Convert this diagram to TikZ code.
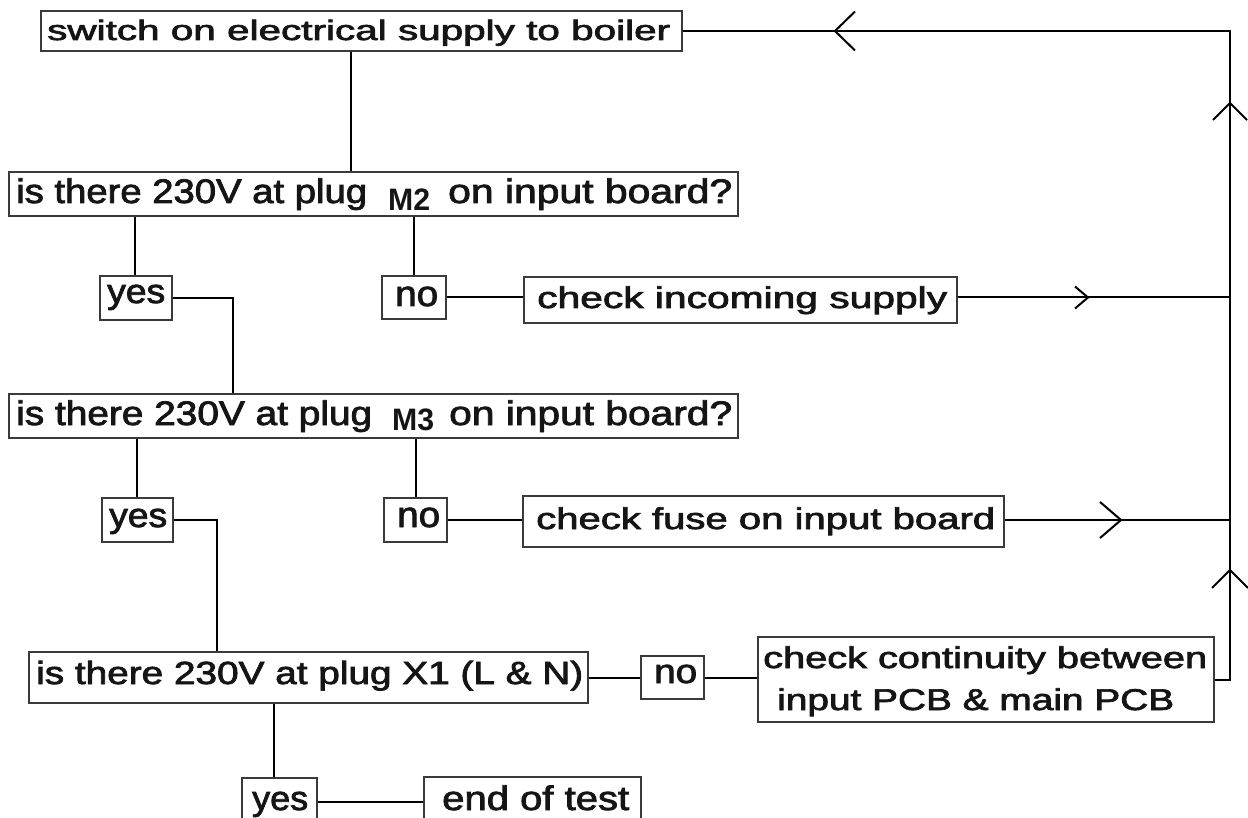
\documentclass[tikz,border=0pt]{standalone}
\usepackage{fontspec}
\setmainfont{Liberation Sans}
\newfontfamily\heavy{Liberation Sans}[FakeBold=2.2]
\usepackage{graphicx}
\usetikzlibrary{fit}
\definecolor{boxgray}{HTML}{3A3A3A}
\definecolor{ink}{HTML}{151515}
\newcommand\fitto[3]{\resizebox{#1pt}{\height}{\fontsize{#2}{#2}\selectfont #3}}
\begin{document}
\begin{tikzpicture}[x=1pt,y=-1pt,
  box/.style={draw=boxgray,line width=1.3pt,inner sep=0pt,fit={#1}},
  txt/.style={inner sep=0pt,anchor=base west,text=ink,font=\heavy},
  wire/.style={line width=2pt,draw=black},
  chevron/.pic={\draw[wire,line join=miter] (-1,-1) -- (0,0) -- (-1,1);}
]
\useasboundingbox (0,0) rectangle (1248,818);
\clip (0,0) rectangle (1248,818);

% column / row helpers
\coordinate (c351) at (351,0);
\coordinate (c135) at (135,0);
\coordinate (c414) at (414,0);
\coordinate (c233) at (233,0);
\coordinate (c137) at (137,0);
\coordinate (c416) at (416,0);
\coordinate (c217) at (217,0);
\coordinate (c274) at (274,0);
\coordinate (cR) at (1230,0);

% boxes
\node[box={(41,11) (682,51)}] (top) {};
\node[box={(9,172) (738,216)}] (m2) {};
\node[box={(100,276) (172,320)}] (yes1) {};
\node[box={(382,276) (446,319)}] (no1) {};
\node[box={(524,277) (957,323)}] (inc) {};
\node[box={(9,394) (738,438)}] (m3) {};
\node[box={(102,498) (173,542)}] (yes2) {};
\node[box={(384,498) (447,542)}] (no2) {};
\node[box={(523,496) (1004,547)}] (fuse) {};
\node[box={(29,652) (588,703)}] (x1) {};
\node[box={(641,656) (704,699)}] (no3) {};
\node[box={(758,637) (1214,722)}] (cont) {};
\node[box={(242,778) (317,826)}] (yes3) {};
\node[box={(424,777) (641,826)}] (endb) {};

% texts
\node[txt] (tTop) at (47,40) {\fitto{623}{28}{switch on electrical supply to boiler}};
\node[txt] (tM2a) at (16,203) {\fitto{351}{34}{is there 230V at plug}};
\node[txt,font=\normalfont] (tM2b) at (388,211) {\fitto{42}{31}{\bfseries M2}};
\node[txt] (tM2c) at (448,203) {\fitto{284}{34}{on input board?}};
\node[txt] (tYes1) at (107,303) {\fitto{58}{34}{yes}};
\node[txt] (tNo1) at (395,306) {\fitto{43}{36}{no}};
\node[txt] (tInc) at (537,308) {\fitto{410}{30}{check incoming supply}};
\node[txt] (tM3a) at (16,425) {\fitto{356}{34}{is there 230V at plug}};
\node[txt,font=\normalfont] (tM3b) at (392,430) {\fitto{42}{31}{\bfseries M3}};
\node[txt] (tM3c) at (449,425) {\fitto{283}{34}{on input board?}};
\node[txt] (tYes2) at (109,527) {\fitto{58}{34}{yes}};
\node[txt] (tNo2) at (397,527) {\fitto{43}{36}{no}};
\node[txt] (tFuse) at (536,529) {\fitto{459}{30}{check fuse on input board}};
\node[txt] (tX1) at (36,684) {\fitto{547}{32}{is there 230V at plug X1 (L \& N)}};
\node[txt] (tNo3) at (654,683) {\fitto{43}{34}{no}};
\node[txt] (tCont1) at (763,668) {\fitto{444}{30}{check continuity between}};
\node[txt] (tCont2) at (777,710) {\fitto{397}{30}{input PCB \& main PCB}};
\node[txt] (tYes3) at (252,810) {\fitto{56}{34}{yes}};
\node[txt] (tEnd) at (442,810) {\fitto{187}{34}{end of test}};

% connectors
\draw[wire] (top.south -| c351) -- (m2.north -| c351);
\draw[wire] (m2.south -| c135) -- (yes1.north -| c135);
\draw[wire] (m2.south -| c414) -- (no1.north -| c414);
\draw[wire] (yes1.east) -- (yes1.east -| c233) -- (m3.north -| c233);
\draw[wire] (no1.east) -- (no1.east -| inc.west);
\draw[wire] (inc.east |- no1.east) -- (no1.east -| cR);
\draw[wire] (m3.south -| c137) -- (yes2.north -| c137);
\draw[wire] (m3.south -| c416) -- (no2.north -| c416);
\draw[wire] (yes2.east) -- (yes2.east -| c217) -- (x1.north -| c217);
\draw[wire] (no2.east) -- (no2.east -| fuse.west);
\draw[wire] (fuse.east |- no2.east) -- (no2.east -| cR);
\draw[wire] (x1.east |- no3.west) -- (no3.west);
\draw[wire] (no3.east) -- (no3.east -| cont.west);
\draw[wire] (cont.east) -- (cont.east -| cR) -- (top.east -| cR) -- (top.east);
\draw[wire] (x1.south -| c274) -- (yes3.north -| c274);
\draw[wire] (yes3.east) -- (yes3.east -| endb.west);

% chevrons on the return lines
\pic[rotate=180,xscale=20,yscale=19.5] at (835,31) {chevron};
\pic[rotate=90,xscale=17,yscale=17] at (1230,103) {chevron};
\pic[rotate=90,xscale=18,yscale=18] at (1230,570) {chevron};
\pic[xscale=13,yscale=11] at (1088,297.5) {chevron};
\pic[xscale=21,yscale=18] at (1121,520) {chevron};
\end{tikzpicture}
\end{document}
